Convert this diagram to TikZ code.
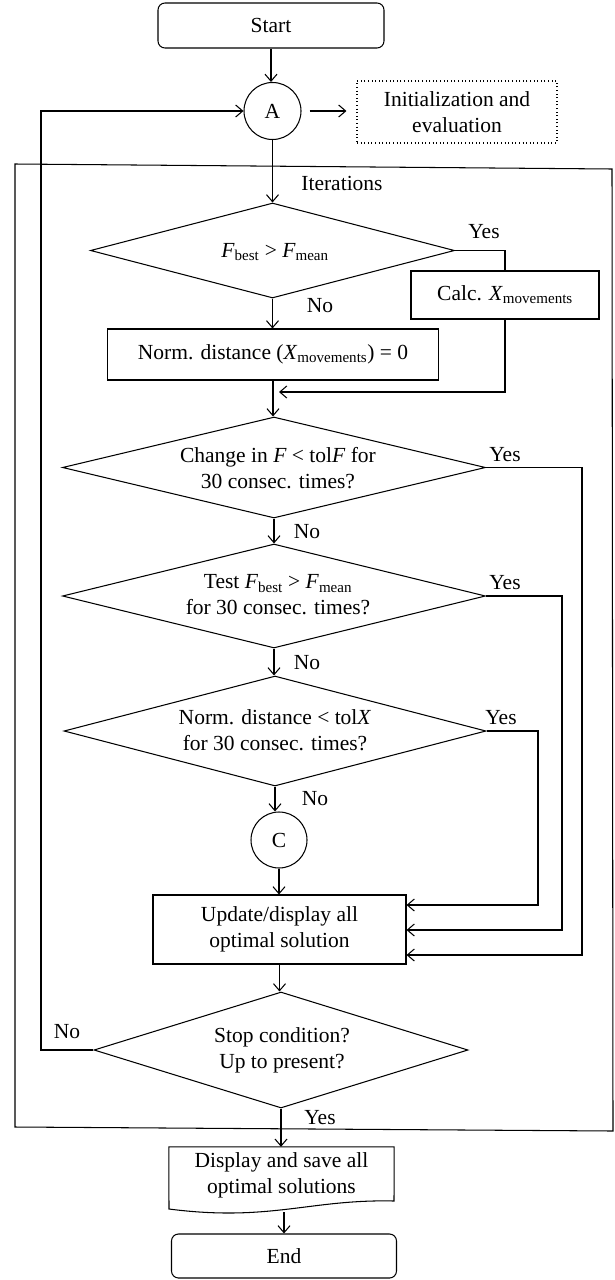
\documentclass[tikz,border=0pt]{standalone}
\usepackage{fontspec}
\setmainfont{Liberation Serif}
\usetikzlibrary{arrows.meta,shapes.geometric,calc}
\newcommand{\Fb}{\textit{F}\textsubscript{best}}
\newcommand{\Fm}{\textit{F}\textsubscript{mean}}
\newcommand{\Xm}{\textit{X}\textsubscript{movements}}
\begin{document}
\begin{tikzpicture}[x=1pt,y=-1pt,
  every node/.style={font=\fontsize{21.5}{26}\selectfont},
  line/.style={line width=1.05pt},
  arr/.style={line, -{Straight Barb[length=7pt,width=12pt,line width=1.05pt]}},
  box/.style={draw, line width=1.05pt, rectangle, inner sep=0pt, align=center},
  term/.style={box, rounded corners=7pt},
  dotbox/.style={box, dash pattern=on 1pt off 2.6pt},
  conn/.style={draw, circle, line width=1.05pt, inner sep=0pt, minimum size=57pt},
  dia/.style={draw, diamond, line width=1.05pt, inner sep=0pt},
  lbl/.style={inner sep=0pt, align=center}]
\useasboundingbox (0,0) rectangle (615,1280);

% iteration frame
\draw[line] (15,164) -- (612,169) -- (613,1131) -- (15,1127) -- cycle;

\node[term, minimum width=226pt, minimum height=45pt] (start) at (271,25.5) {Start};
\node[conn] (A) at (272.5,111) {A};
\node[dotbox, minimum width=200pt, minimum height=62pt] (init) at (457,112) {Initialization and\\evaluation};
\node[lbl] (iter) at (342,183) {Iterations};

\node[dia, minimum width=364pt, minimum height=95pt] (d1) at (272.5,250.5) {};
\node[lbl] (t1) at (275,252) {\Fb{} > \Fm};
\node[box, minimum width=188pt, minimum height=48pt] (calc) at (505,295) {Calc. \Xm};
\node[box, minimum width=331pt, minimum height=51pt] (norm) at (273,354.5) {Norm. distance (\Xm) = 0};

\node[dia, minimum width=423pt, minimum height=101pt] (d2) at (274,467.5) {};
\node[lbl] (t2) at (278,468.5) {Change in \textit{F} < tol\textit{F} for\\30 consec. times?};
\node[dia, minimum width=423pt, minimum height=104pt] (d3) at (274,596) {};
\node[lbl] (t3) at (278,595) {Test \Fb{} > \Fm\\for 30 consec. times?};
\node[dia, minimum width=422pt, minimum height=110pt] (d4) at (275,731) {};
\node[lbl] (t4) at (275,730) {Norm. distance < tol\textit{X}\\for 30 consec. times?};
\node[conn, minimum size=56pt] (C) at (279,840) {C};
\node[box, minimum width=253pt, minimum height=69pt] (upd) at (279.5,929.5) {Update/display all\\optimal solution};
\node[dia, minimum width=374pt, minimum height=116pt] (d5) at (281,1050) {};
\node[lbl] (t5) at (282,1050.5) {Stop condition?\\Up to present?};

\node[lbl, minimum width=225pt, minimum height=56pt] (disp) at (281.5,1175) {Display and save all\\optimal solutions};
\draw[line] (disp.north west) -- (disp.north east) -- (394,1201)
  .. controls (310,1199) and (270,1222) .. (169,1209) -- cycle;
\coordinate (dispb) at (284,1212);
\node[term, minimum width=225pt, minimum height=44pt] (end) at (284,1256) {End};

% labels
\node[lbl] (y1) at (484,232) {Yes};
\node[lbl] (n1) at (320,306) {No};
\node[lbl] (y2) at (505,455) {Yes};
\node[lbl] (n2) at (307,532) {No};
\node[lbl] (y3) at (505,583) {Yes};
\node[lbl] (n3) at (307,663) {No};
\node[lbl] (y4) at (501,718) {Yes};
\node[lbl] (n4) at (315,799) {No};
\node[lbl] (n5) at (67,1032) {No};
\node[lbl] (y5) at (320,1118) {Yes};

% connectors
\draw[arr] (start.south) -- (start.south |- A.north);
\draw[arr, shorten <=8pt, shorten >=10pt] (A.east) -- (A.east -| init.west);
\draw[arr] (A.south) -- (A.south |- d1.north);
\draw[line] (d1.east) -| (calc.north);
\draw[arr] (d1.south) -- (d1.south |- norm.north);
\coordinate (j1) at (279,392);
\draw[arr] (calc.south) |- (j1);
\draw[arr] (norm.south) -- (norm.south |- d2.north);
\coordinate (r1) at (538,905);
\coordinate (r2) at (562,930);
\coordinate (r3) at (582,955);
\draw[arr] (d2.east) -| (r3) -- (upd.east |- r3);
\draw[arr] (d3.east) -| (r2) -- (upd.east |- r2);
\draw[arr] (d4.east) -| (r1) -- (upd.east |- r1);
\draw[arr] (d2.south) -- (d3.north);
\draw[arr] (d3.south) -- (d3.south |- d4.north);
\draw[arr] (d4.south) -- (d4.south |- C.north);
\draw[arr] (C.south) -- (C.south |- upd.north);
\draw[arr] (upd.south) -- (upd.south |- d5.north);
\draw[arr] (d5.south) -- (d5.south |- disp.north);
\coordinate (lp) at (41,111);
\draw[arr] (d5.west) -| (lp) -- (A.west);
\draw[arr] (dispb) -- (dispb |- end.north);
\end{tikzpicture}
\end{document}
